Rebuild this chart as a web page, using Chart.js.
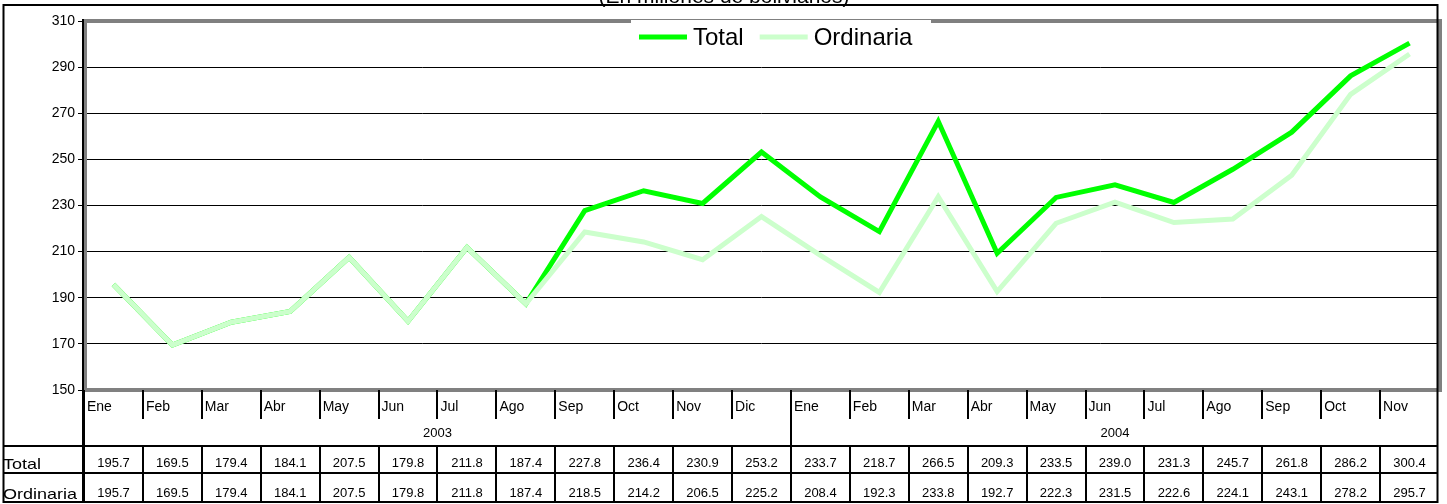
<!DOCTYPE html>
<html>
<head>
<meta charset="utf-8">
<script src="https://cdn.jsdelivr.net/npm/chart.js@4.4.1/dist/chart.umd.min.js"></script>
<style>
  html, body { margin: 0; padding: 0; background: #fff; }
  canvas { display: block; }
</style>
</head>
<body>
<canvas id="chart" width="1447" height="504"></canvas>
<script>
const titleText = "(En millones de bolivianos)";

const months = ["Ene","Feb","Mar","Abr","May","Jun","Jul","Ago","Sep","Oct","Nov","Dic",
                "Ene","Feb","Mar","Abr","May","Jun","Jul","Ago","Sep","Oct","Nov"];
const years = ["2003", "2004"];
const monthsPerYear = [12, 11];

const total = [195.7,169.5,179.4,184.1,207.5,179.8,211.8,187.4,227.8,236.4,230.9,253.2,
               233.7,218.7,266.5,209.3,233.5,239.0,231.3,245.7,261.8,286.2,300.4];
const ordinaria = [195.7,169.5,179.4,184.1,207.5,179.8,211.8,187.4,218.5,214.2,206.5,225.2,
                   208.4,192.3,233.8,192.7,222.3,231.5,222.6,224.1,243.1,278.2,295.7];

const yTicks = [150,170,190,210,230,250,270,290,310];

const FONT = "'Liberation Sans', Arial, sans-serif";

// frame, data table, title and legend, drawn the excel way
const excelBits = {
  id: "excelBits",
  beforeDraw(chart) {
    const ctx = chart.ctx;
    ctx.save();
    ctx.fillStyle = "#fff";
    ctx.fillRect(0, 0, chart.width, chart.height);
    ctx.restore();
  },
  afterDraw(chart) {
    const { ctx, chartArea: a, scales: { x } } = chart;
    const step = x.getPixelForValue(1) - x.getPixelForValue(0);
    const edge = i => x.getPixelForValue(i) - step / 2;
    const n = months.length;

    ctx.save();

    // gray plot frame
    ctx.strokeStyle = "#808080";
    ctx.lineWidth = 4;
    ctx.strokeRect(a.left + 1, a.top, a.right - a.left, a.bottom - a.top);

    // black value axis
    ctx.strokeStyle = "#000";
    ctx.lineWidth = 2;
    ctx.beginPath();
    ctx.moveTo(a.left - 1, a.top - 2);
    ctx.lineTo(a.left - 1, a.bottom + 2);
    ctx.stroke();

    // outer border
    ctx.strokeRect(3.5, 5, 1434, 497);

    // title (cut off at the top)
    ctx.fillStyle = "#000";
    ctx.font = "21px " + FONT;
    ctx.textAlign = "center";
    ctx.textBaseline = "alphabetic";
    ctx.fillText(titleText, 724, 3);

    // data table
    const yMonth = a.bottom, yYear = 419, yTot = 446, yOrd = 473, yEnd = 502;
    ctx.lineWidth = 2;
    ctx.beginPath();
    ctx.moveTo(a.left - 1, yMonth);
    ctx.lineTo(a.left - 1, yEnd);
    for (let i = 0; i < n; i++) {
      const bx = Math.round(edge(i));
      ctx.moveTo(bx, yMonth);
      ctx.lineTo(bx, yYear);
      ctx.moveTo(bx, yTot);
      ctx.lineTo(bx, yEnd);
    }
    let k = 0;
    monthsPerYear.forEach(c => {
      const bx = Math.round(edge(k));
      ctx.moveTo(bx, yYear);
      ctx.lineTo(bx, yTot);
      k += c;
    });
    ctx.moveTo(4, yTot); ctx.lineTo(1437, yTot);
    ctx.moveTo(4, yOrd); ctx.lineTo(1437, yOrd);
    ctx.stroke();

    // month labels
    ctx.font = "14px " + FONT;
    ctx.textAlign = "left";
    ctx.textBaseline = "middle";
    months.forEach((m, i) => ctx.fillText(m, edge(i) + 3, 407));

    // year labels
    ctx.font = "13px " + FONT;
    ctx.textAlign = "center";
    k = 0;
    years.forEach((yr, j) => {
      const mid = (edge(k) + edge(k + monthsPerYear[j])) / 2;
      ctx.fillText(yr, mid, 433);
      k += monthsPerYear[j];
    });

    // values
    ctx.textBaseline = "alphabetic";
    chart.data.datasets.forEach(ds => {
      const base = ds.label === "Total" ? 467 : 497;
      ds.data.forEach((v, i) => ctx.fillText(v.toFixed(1), x.getPixelForValue(i), base));
    });

    // row labels, a bit wider like the original
    ctx.font = "15px " + FONT;
    ctx.textAlign = "left";
    [["Total", 469], ["Ordinaria", 499]].forEach(([t, by]) => {
      ctx.save();
      ctx.translate(3, by);
      ctx.scale(1.2, 1);
      ctx.fillText(t, 0, 0);
      ctx.restore();
    });

    // legend
    ctx.fillStyle = "#fff";
    ctx.fillRect(631, 20, 300, 36);
    ctx.font = "24px " + FONT;
    ctx.textBaseline = "middle";
    let lx = 639;
    chart.data.datasets.forEach(ds => {
      ctx.strokeStyle = ds.borderColor;
      ctx.lineWidth = 5;
      ctx.beginPath();
      ctx.moveTo(lx, 37);
      ctx.lineTo(lx + 48, 37);
      ctx.stroke();
      ctx.fillStyle = "#000";
      ctx.fillText(ds.label, lx + 54, 38);
      lx += 54 + ctx.measureText(ds.label).width + 16;
    });

    ctx.restore();
  }
};

new Chart(document.getElementById("chart"), {
  type: "line",
  data: {
    labels: months,
    datasets: [
      { label: "Total", data: total, borderColor: "#00FF00", borderWidth: 5, order: 1 },
      { label: "Ordinaria", data: ordinaria, borderColor: "#CCFFCC", borderWidth: 5, order: 0 }
    ]
  },
  options: {
    responsive: false,
    animation: false,
    layout: { padding: { top: 21, right: 8, bottom: 114, left: 0 } },
    elements: { point: { radius: 0 }, line: { tension: 0 } },
    plugins: { legend: { display: false }, title: { display: false }, tooltip: { enabled: false } },
    scales: {
      x: { display: false, offset: true },
      y: {
        min: yTicks[0],
        max: yTicks[yTicks.length - 1],
        afterBuildTicks: s => { s.ticks = yTicks.map(v => ({ value: v })); },
        afterFit: s => { s.width = 84; },
        border: { display: false },
        grid: { color: "#000", lineWidth: 1, tickLength: 6 },
        ticks: { color: "#000", padding: 3, font: { family: FONT, size: 14 } }
      }
    }
  },
  plugins: [excelBits]
});
</script>
</body>
</html>
